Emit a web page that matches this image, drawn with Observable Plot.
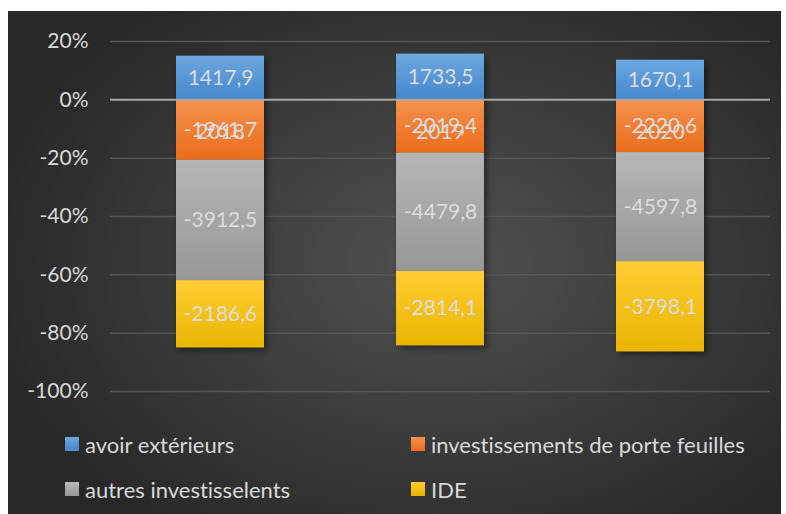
<!DOCTYPE html>
<html>
<head>
<meta charset="utf-8">
<script src="https://cdn.jsdelivr.net/npm/d3@7"></script>
<script src="https://cdn.jsdelivr.net/npm/@observablehq/plot@0.6"></script>
<style>
  html, body { margin: 0; padding: 0; background: #ffffff; width: 786px; height: 514px; overflow: hidden; }
  #panel {
    position: absolute; left: 8px; top: 11px; width: 773px; height: 503px;
    background: radial-gradient(ellipse 60% 65% at 56% 50%, #505050 0%, #3f3f3f 45%, #282828 100%);
    font-family: Lato, "Open Sans", sans-serif;
    font-variant-ligatures: none;
  }
  #legend {
    display: grid; grid-template-columns: 346px 346px; grid-auto-rows: 36px; row-gap: 9px;
    padding-left: 57px; color: #d9d9d9; font-size: 22px;
  }
  .item { display: flex; align-items: center; white-space: nowrap; }
  .sw { width: 14px; height: 14px; margin-right: 6px; flex: none; }
</style>
</head>
<body>
<div id="panel"><div id="chart"></div><div id="legend"></div></div>
<script>
const years = ["2018", "2019", "2020"];
const seriesNames = ["avoir extérieurs", "investissements de porte feuilles", "autres investisselents", "IDE"];
const avoirExterieurs = [1417.9, 1733.5, 1670.1];
const investPorteFeuilles = [-1961.7, -2019.4, -2220.6];
const autresInvest = [-3912.5, -4479.8, -4597.8];
const ide = [-2186.6, -2814.1, -3798.1];
const yTicks = [0.2, 0, -0.2, -0.4, -0.6, -0.8, -1.0];
const gradTop = ["#6ca8df", "#f5914e", "#b6b6b6", "#ffcd35"];
const gradBottom = ["#4587cd", "#ea6d1b", "#979797", "#e9b500"];

const seriesValues = [avoirExterieurs, investPorteFeuilles, autresInvest, ide];

// 100% stacked: share of absolute total per year
const rows = [];
years.forEach((year, i) => {
  const total = d3.sum(seriesValues, s => Math.abs(s[i]));
  let pos = 0, neg = 0;
  seriesValues.forEach((s, k) => {
    const v = s[i];
    const p = v / total;
    let y1, y2;
    if (p >= 0) { y1 = pos; y2 = pos + p; pos = y2; }
    else { y1 = neg; y2 = neg + p; neg = y2; }
    rows.push({year, series: seriesNames[k], value: v, y1, y2, mid: (y1 + y2) / 2,
      label: v.toFixed(1).replace(".", ",")});
  });
});

const fillIds = seriesNames.map((_, k) => `url(#grad${k})`);

const chart = Plot.plot({
  width: 773,
  height: 415,
  marginLeft: 102,
  marginRight: 11,
  marginTop: 30,
  marginBottom: 35,
  style: { background: "transparent", color: "#d9d9d9", fontSize: "21px", fontFamily: "Lato, 'Open Sans', sans-serif" },
  x: { domain: years, paddingInner: 0.6, paddingOuter: 0.3, axis: null },
  y: { domain: [-1, 0.2], ticks: yTicks, tickFormat: d => Math.round(d * 100) + "%", tickSize: 0, tickPadding: 22, label: null },
  color: { type: "ordinal", domain: seriesNames, range: fillIds },
  marks: [
    Plot.ruleY(yTicks.filter(t => t !== 0), { stroke: "#565656", strokeWidth: 1.5 }),
    Plot.barY(rows, { x: "year", y1: "y1", y2: "y2", fill: "series" }),
    Plot.ruleY([0], { stroke: "#a8a8a8", strokeWidth: 2 }),
    Plot.text(years, { x: d => d, y: () => 0, dy: 32, text: d => d, fill: "#d9d9d9", fontSize: 21 }),
    Plot.text(rows, { x: "year", y: "mid", text: "label", fill: "#dcdcdc", fontSize: 21 })
  ]
});

// gradients and shadow
const svg = d3.select(chart);
const defs = svg.insert("defs", ":first-child");
seriesNames.forEach((_, k) => {
  const g = defs.append("linearGradient").attr("id", `grad${k}`).attr("x1", 0).attr("y1", 0).attr("x2", 0).attr("y2", 1);
  g.append("stop").attr("offset", "0%").attr("stop-color", gradTop[k]);
  g.append("stop").attr("offset", "100%").attr("stop-color", gradBottom[k]);
});
const f = defs.append("filter").attr("id", "shadow").attr("x", "-20%").attr("y", "-20%").attr("width", "150%").attr("height", "150%");
f.append("feDropShadow").attr("dx", 3).attr("dy", 3).attr("stdDeviation", 3).attr("flood-color", "#000").attr("flood-opacity", 0.45);
svg.selectAll("g[aria-label='bar']").attr("filter", "url(#shadow)");

document.getElementById("chart").appendChild(chart);

const legend = d3.select("#legend");
seriesNames.forEach((name, k) => {
  const it = legend.append("div").attr("class", "item");
  it.append("div").attr("class", "sw").style("background", `linear-gradient(${gradTop[k]}, ${gradBottom[k]})`);
  it.append("span").text(name);
});
</script>
</body>
</html>
